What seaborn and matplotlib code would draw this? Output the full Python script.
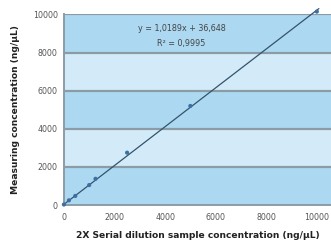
import numpy as np
import pandas as pd
import matplotlib
matplotlib.use("Agg")
import matplotlib.pyplot as plt
import seaborn as sns

sample_conc = [0, 200, 450, 1000, 1250, 2500, 5000, 10000]
measured_conc = [30, 250, 480, 1050, 1380, 2750, 5200, 10150]

# linear trendline shown on the chart
slope = 1.0189
intercept = 36.648
r_squared = 0.9995

y_ticks = [0, 2000, 4000, 6000, 8000, 10000]
x_ticks = [0, 2000, 4000, 6000, 8000, 10000]

BAND_DARK = "#acd9f1"
BAND_LIGHT = "#d3ebf9"
GRID = "#8c9ca6"

sns.set_style("white")
plt.rcParams["font.family"] = ["DejaVu Sans"]

fig = plt.figure(figsize=(3.31, 2.41), dpi=100)
ax = fig.add_axes([0.193, 0.149, 0.807, 0.791])

# alternating bands between gridlines
for i in range(len(y_ticks) - 1):
    ax.axhspan(y_ticks[i], y_ticks[i + 1],
               color=BAND_DARK if i % 2 == 0 else BAND_LIGHT, lw=0, zorder=0)
for t in y_ticks[1:]:
    ax.axhline(t, color=GRID, lw=1.6, zorder=1)

df = pd.DataFrame({"x": sample_conc, "y": measured_conc})
line_x = np.array([0, 10080])
line_df = pd.DataFrame({"x": line_x, "y": slope * line_x + intercept})

sns.lineplot(data=line_df, x="x", y="y", ax=ax, color="#34536a", lw=0.9, zorder=3)
ax.lines[-1].set_clip_on(False)
sns.scatterplot(data=df, x="x", y="y", ax=ax, color="#3d6fa3", s=9,
                edgecolor="none", zorder=4, clip_on=False)

ax.set_xlim(0, 10560)
ax.set_ylim(0, 10000)
ax.set_xticks(x_ticks)
ax.set_yticks(y_ticks)
ax.tick_params(axis="both", labelsize=5.7, colors="#555555", length=2.5,
               width=0.8, pad=2)
ax.tick_params(axis="x", length=0, pad=6)

for side in ["top", "right"]:
    ax.spines[side].set_visible(False)
for side in ["left", "bottom"]:
    ax.spines[side].set_color(GRID)
    ax.spines[side].set_linewidth(1.4)

ax.text(0.44, 0.925, f"y = {str(slope).replace('.', ',')}x + {str(intercept).replace('.', ',')}",
        transform=ax.transAxes, ha="center", va="center", fontsize=5.8, color="#444444")
ax.text(0.44, 0.848, f"R² = {str(r_squared).replace('.', ',')}",
        transform=ax.transAxes, ha="center", va="center", fontsize=5.8, color="#444444")

ax.set_xlabel("2X Serial dilution sample concentration (ng/µL)", fontsize=6.6,
              fontweight="bold", color="#222222", labelpad=6)
ax.set_ylabel("Measuring concentration (ng/µL)", fontsize=6.6,
              fontweight="bold", color="#222222", labelpad=9)

fig.savefig("out.png", dpi=100)
